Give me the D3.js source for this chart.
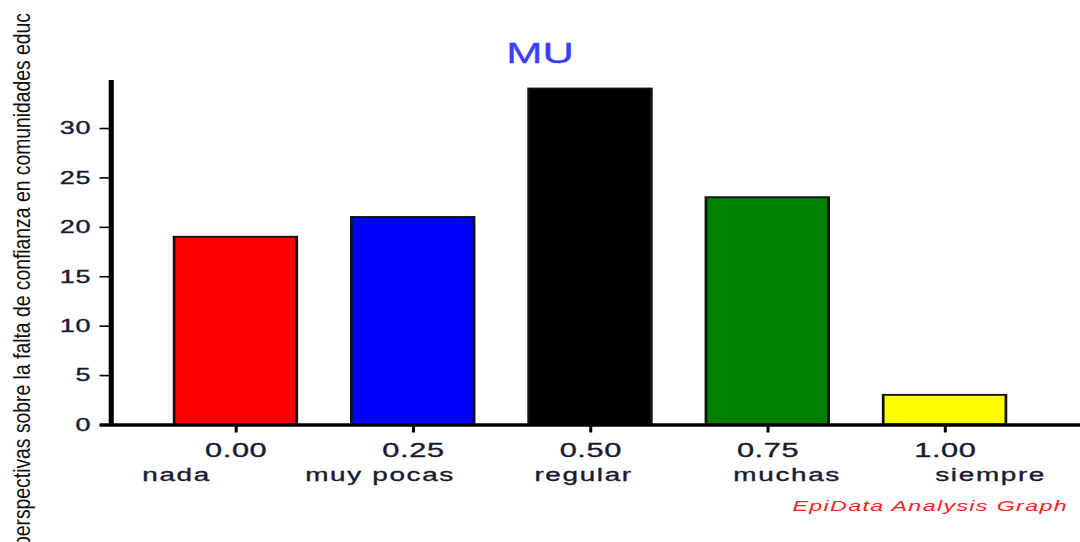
<!DOCTYPE html>
<html>
<head>
<meta charset="utf-8">
<script src="https://cdn.jsdelivr.net/npm/d3@7"></script>
<style>
  body { margin: 0; background: #fff; }
  svg { display: block; font-family: "Liberation Sans", Arial, sans-serif; }
</style>
</head>
<body>
<svg id="chart" width="1080" height="542"></svg>
<script>
  // data
  const categories = ["nada", "muy pocas", "regular", "muchas", "siempre"];
  const xValues = [0, 0.25, 0.5, 0.75, 1];
  const counts = [19, 21, 34, 23, 3];
  const barColors = ["#ff0000", "#0000ff", "#000000", "#008000", "#ffff00"];
  const yTicks = [0, 5, 10, 15, 20, 25, 30];

  const TITLE = "MU";
  const Y_LABEL = "perspectivas sobre la falta de confianza en comunidades educ";
  const CREDIT = "EpiData Analysis Graph";

  // the original picture is stretched sideways, so the plot is drawn in a squeezed frame and scaled
  const K = 1.5;
  const BAR_WIDTH = 0.173;
  const INK = "#1a1a30";

  const svg = d3.select("#chart");
  const g = svg.append("g").attr("transform", `scale(${K},1)`);

  const x = d3.scaleLinear().domain([-0.1924, 1.191]).range([99 / K, 1080 / K]);
  const y = d3.scaleLinear().domain([0, 34.9]).range([424.5, 79.6]);

  // bars
  g.append("g").selectAll("rect")
    .data(counts)
    .join("rect")
    .attr("x", (d, i) => x(xValues[i] - BAR_WIDTH / 2))
    .attr("width", x(BAR_WIDTH) - x(0))
    .attr("y", d => y(d))
    .attr("height", d => y(0) - y(d))
    .attr("fill", (d, i) => barColors[i])
    .attr("stroke", "#111")
    .attr("stroke-width", 1.8);

  // y axis
  const yAxis = g.append("g")
    .attr("transform", `translate(${110.5 / K},0)`)
    .call(d3.axisLeft(y).tickValues(yTicks).tickSize(7.3).tickSizeOuter(0).tickPadding(5.4));
  yAxis.select(".domain").attr("stroke", "#000").attr("stroke-width", 3.4);
  yAxis.selectAll(".tick line").attr("stroke", "#000").attr("stroke-width", 1.6);
  yAxis.selectAll(".tick text")
    .attr("font-size", 18)
    .attr("font-family", "Liberation Sans, Arial, sans-serif")
    .attr("fill", INK)
    .attr("stroke", INK)
    .attr("stroke-width", 0.35)
    .attr("letter-spacing", 0.6);

  // x axis
  const xAxis = g.append("g")
    .attr("transform", "translate(0,424.5)")
    .call(d3.axisBottom(x).tickValues(xValues).tickFormat(d3.format(".2f")).tickSize(8).tickSizeOuter(0));
  xAxis.select(".domain").attr("stroke", "#000").attr("stroke-width", 3.5);
  xAxis.selectAll(".tick line").attr("stroke", "#000").attr("stroke-width", 2);
  xAxis.selectAll(".tick text")
    .attr("y", 32.2)
    .attr("dy", 0)
    .attr("font-size", 20.5)
    .attr("font-family", "Liberation Sans, Arial, sans-serif")
    .attr("fill", INK)
    .attr("stroke", INK)
    .attr("stroke-width", 0.35)
    .attr("letter-spacing", 0.4);

  // category names under the ticks
  g.append("g").selectAll("text")
    .data(categories)
    .join("text")
    .attr("x", (d, i) => x(-0.083 + i * 0.287))
    .attr("y", 481.5)
    .attr("text-anchor", "middle")
    .attr("font-size", 18.6)
    .attr("letter-spacing", 1.1)
    .attr("fill", INK)
    .attr("stroke", INK)
    .attr("stroke-width", 0.35)
    .text(d => d);

  // title
  g.append("text")
    .attr("x", 540 / K)
    .attr("y", 62.7)
    .attr("text-anchor", "middle")
    .attr("font-size", 29)
    .attr("fill", "#3c3cff")
    .attr("stroke", "#3c3cff")
    .attr("stroke-width", 0.3)
    .text(TITLE);

  // credit line
  g.append("text")
    .attr("x", 1068 / K)
    .attr("y", 511)
    .attr("text-anchor", "end")
    .attr("font-size", 15.5)
    .attr("font-style", "italic")
    .attr("letter-spacing", 0.9)
    .attr("fill", "#ff2020")
    .text(CREDIT);

  // y label, cut off at the picture edge
  svg.append("text")
    .attr("transform", "translate(30,13) scale(1.45,1) rotate(-90)")
    .attr("text-anchor", "end")
    .attr("font-size", 17)
    .attr("textLength", 534)
    .attr("lengthAdjust", "spacingAndGlyphs")
    .attr("fill", "#111")
    .text(Y_LABEL);
</script>
</body>
</html>
